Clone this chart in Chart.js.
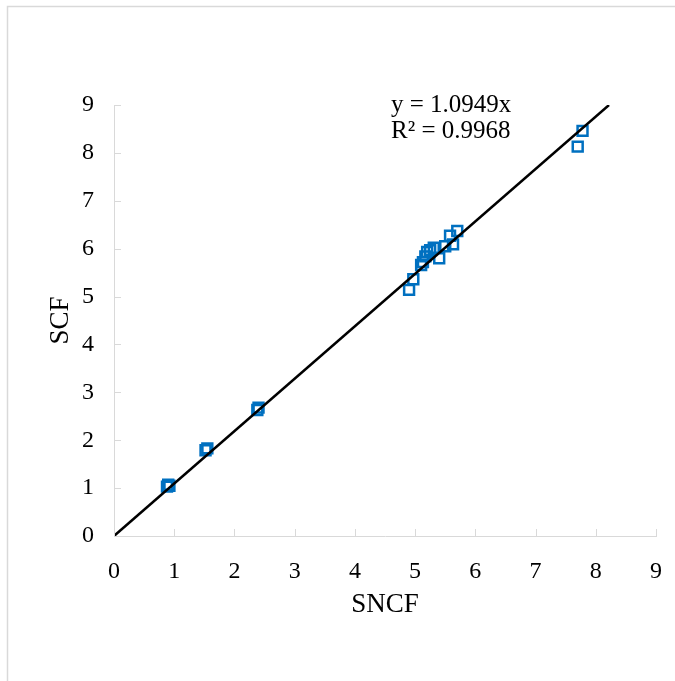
<!DOCTYPE html>
<html>
<head>
<meta charset="utf-8">
<script src="https://cdn.jsdelivr.net/npm/chart.js@4"></script>
<style>
  html, body { margin: 0; padding: 0; background: #fff; }
  #wrap { width: 675px; height: 681px; position: relative; }
</style>
</head>
<body>
<div id="wrap"><canvas id="scfChart"></canvas></div>
<script>
// values
const sncf = [0.88, 0.90, 0.92, 1.52, 1.55, 2.38, 2.40, 4.90, 4.97, 5.10, 5.13, 5.17, 5.20, 5.25, 5.31, 5.40, 5.50, 5.58, 5.63, 5.70, 7.70, 7.78];
const scf = [1.03, 1.07, 1.05, 1.79, 1.83, 2.63, 2.68, 5.14, 5.36, 5.66, 5.72, 5.84, 5.93, 5.97, 6.02, 5.80, 6.05, 6.27, 6.09, 6.37, 8.13, 8.46];
const slope = 1.0949;
const rSquared = 0.9968;
const axisTicks = [0, 1, 2, 3, 4, 5, 6, 7, 8, 9];

const serif = "'Liberation Serif', 'Times New Roman', serif";
const axisGray = "#d9d9d9";

// trendline y = slope * x through origin, clipped at the top of the axis
const trend = [
    { x: 0, y: 0 },
    { x: 9 / slope, y: 9 },
];

// border round the whole picture + tick marks pointing into the plot + equation text
const extrasPlugin = {
    id: "extras",
    beforeDraw(chart) {
        const ctx = chart.ctx;
        ctx.save();
        ctx.strokeStyle = axisGray;
        ctx.lineWidth = 1.5;
        ctx.strokeRect(7.5, 6.5, 720, 720);
        ctx.restore();
    },
    afterDraw(chart) {
        const { ctx, scales } = chart;
        const xs = scales.x;
        const ys = scales.y;
        ctx.save();
        ctx.strokeStyle = axisGray;
        ctx.lineWidth = 1;
        ctx.beginPath();
        axisTicks.forEach((v) => {
            const px = Math.round(xs.getPixelForValue(v)) + 0.5;
            ctx.moveTo(px, ys.bottom);
            ctx.lineTo(px, ys.bottom - 7);
            const py = Math.round(ys.getPixelForValue(v)) + 0.5;
            ctx.moveTo(xs.left, py);
            ctx.lineTo(xs.left + 7, py);
        });
        ctx.stroke();

        ctx.fillStyle = "#000";
        ctx.font = "25px " + serif;
        ctx.textBaseline = "middle";
        ctx.textAlign = "left";
        ctx.fillText("y = " + slope.toFixed(4) + "x", 391, 105);
        ctx.fillText("R² = " + rSquared.toFixed(4), 391, 131);
        ctx.restore();
    },
};

new Chart(document.getElementById("scfChart"), {
    type: "scatter",
    data: {
        datasets: [
            {
                data: sncf.map((x, i) => ({ x: x, y: scf[i] })),
                pointStyle: "rect",
                pointRadius: 7,
                pointBorderWidth: 2.5,
                pointBorderColor: "#0070c0",
                pointBackgroundColor: "rgba(0,0,0,0)",
                order: 1,
            },
            {
                type: "line",
                data: trend,
                borderColor: "#000",
                borderWidth: 2.5,
                pointRadius: 0,
                fill: false,
                order: 0,
            },
        ],
    },
    options: {
        responsive: true,
        maintainAspectRatio: false,
        animation: false,
        layout: { padding: { left: 0, top: 105, right: 19, bottom: 0 } },
        plugins: {
            legend: { display: false },
            tooltip: { enabled: false },
        },
        scales: {
            x: {
                type: "linear",
                min: 0,
                max: 9,
                afterFit: (scale) => { scale.height = 145; },
                afterBuildTicks: (scale) => { scale.ticks = axisTicks.map((v) => ({ value: v })); },
                grid: { display: false },
                border: { display: true, color: axisGray, width: 1 },
                ticks: {
                    color: "#000",
                    font: { family: serif, size: 24 },
                    padding: 13,
                    maxRotation: 0,
                },
                title: {
                    display: true,
                    text: "SNCF",
                    color: "#000",
                    font: { family: serif, size: 27 },
                    padding: { top: 0, bottom: 60 },
                },
            },
            y: {
                type: "linear",
                min: 0,
                max: 9,
                afterFit: (scale) => { scale.width = 114; },
                afterBuildTicks: (scale) => { scale.ticks = axisTicks.map((v) => ({ value: v })); },
                grid: { display: false },
                border: { display: true, color: axisGray, width: 1 },
                ticks: {
                    color: "#000",
                    font: { family: serif, size: 24 },
                    padding: 12,
                },
                title: {
                    display: true,
                    text: "SCF",
                    color: "#000",
                    font: { family: serif, size: 27 },
                    padding: { top: 45, bottom: 0 },
                },
            },
        },
    },
    plugins: [extrasPlugin],
});
</script>
</body>
</html>
